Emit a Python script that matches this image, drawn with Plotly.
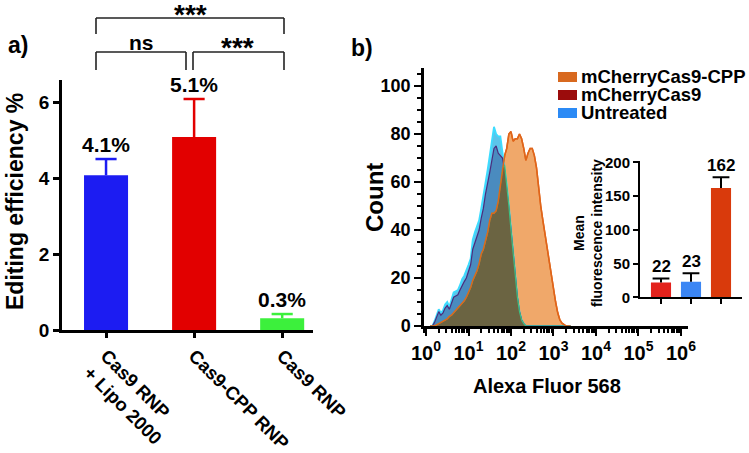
import plotly.graph_objects as go
import numpy as np

W, H = 749, 453
def px(x): return x / W
def py(y): return 1 - y / H

FONT = "Liberation Sans, Arial, sans-serif"

# ---------------- data: panel a ----------------
edit_categories = ["Cas9 RNP<br>+ Lipo 2000", "Cas9-CPP RNP", "Cas9 RNP"]
edit_values = [4.07, 5.08, 0.31]
edit_err = [0.43, 1.0, 0.11]
edit_labels = ["4.1%", "5.1%", "0.3%"]
edit_colors = ["#1c1cf2", "#e20000", "#3cf03c"]

# ---------------- data: panel b histogram ----------------
fluor_log10 = [0.10, 0.15, 0.20, 0.25, 0.30, 0.35, 0.40, 0.45, 0.50, 0.55,
               0.60, 0.65, 0.70, 0.75, 0.80, 0.85, 0.90, 0.95, 1.00, 1.05,
               1.10, 1.15, 1.20, 1.25, 1.30, 1.35, 1.40, 1.45, 1.50, 1.55,
               1.60, 1.65, 1.70, 1.75, 1.80, 1.85, 1.90, 1.95, 2.00, 2.05,
               2.10, 2.15, 2.20, 2.25, 2.30, 2.35, 2.40, 2.45, 2.50, 2.55,
               2.60, 2.65, 2.70, 2.75, 2.80, 2.85, 2.90, 2.95, 3.00, 3.05,
               3.10, 3.15, 3.20, 3.25, 3.30, 3.35, 3.40]
count_untreated = [0, 0, 2, 5, 7, 5.5, 6.5, 9, 10, 8,
                   11, 14, 14.5, 15, 17, 19.5, 21, 23, 25.5, 28,
                   36, 39, 42, 44, 49, 54, 60, 65, 71, 77,
                   83, 80, 79, 79, 73, 67, 59, 50, 40, 30,
                   19, 12, 6, 2.5, 1, 0, 0, 0, 0, 0,
                   0, 0, 0, 0, 0, 0, 0, 0, 0, 0,
                   0, 0, 0, 0, 0, 0, 0]
count_mcherry = [0, 0, 1.5, 4, 6, 4.5, 5.5, 7.5, 8.5, 7,
                 9.5, 12, 12.5, 13, 15, 17, 18.5, 20, 23, 25.5,
                 32, 35, 38, 40, 45, 49, 55, 59, 64, 69,
                 74, 75, 72, 71, 70, 65, 58, 49, 40, 30,
                 19, 12, 6, 2.5, 1, 0, 0, 0, 0, 0,
                 0, 0, 0, 0, 0, 0, 0, 0, 0, 0,
                 0, 0, 0, 0, 0, 0, 0]
count_cpp = [0, 0, 0, 0.5, 1, 1.5, 2, 2.5, 3, 4,
             4.5, 5.5, 6.5, 7.5, 8.5, 9.5, 10.5, 12, 14, 16,
             19, 21, 23, 26, 30, 32, 35, 39, 44, 47,
             47, 48, 52, 58, 66, 71, 74, 80, 81, 77,
             78, 78, 80, 78, 74, 69, 72, 74, 74, 71,
             66, 57, 50, 44, 38.5, 32, 26, 20, 14.5, 10,
             5.5, 2.5, 1.2, 0.5, 0, 0, 0]
hist_tick_exp = [0, 1, 2, 3, 4, 5, 6]
hist_tick_text = ["10<sup>%d</sup>" % k for k in hist_tick_exp]

legend_names = ["mCherryCas9-CPP", "mCherryCas9", "Untreated"]
legend_colors = ["#d8691f", "#9b0c0c", "#2b8af5"]

# ---------------- data: inset ----------------
mfi_groups = ["mCherryCas9", "Untreated", "mCherryCas9-CPP"]
mfi_values = [22, 23, 162]
mfi_err = [6, 12.5, 16]
mfi_labels = ["22", "23", "162"]
mfi_colors = ["#e3221c", "#3b86f4", "#d93a0c"]

fig = go.Figure()

def err_trace(i, val, err, half, color, width, xa, ya):
    top = val + err
    return go.Scatter(x=[i, i, None, i - half, i + half], y=[val, top, None, top, top],
                      mode="lines", line=dict(color=color, width=width),
                      xaxis=xa, yaxis=ya, showlegend=False, hoverinfo="skip")

# ---- panel a bars ----
for i in range(3):
    fig.add_trace(go.Bar(
        x=[i], y=[edit_values[i]], width=0.5, marker_color=edit_colors[i],
        marker_line_width=0, xaxis="x", yaxis="y", showlegend=False, hoverinfo="skip"))
    fig.add_trace(err_trace(i, edit_values[i], edit_err[i], 0.12, edit_colors[i], 2.5, "x", "y"))

# ---- panel b histograms ----
xs = [10 ** v for v in fluor_log10]
overlap = np.minimum(np.array(count_untreated), np.array(count_cpp))
fig.add_trace(go.Scatter(x=xs, y=count_cpp, fill="tozeroy", mode="lines",
                         line=dict(color="#e0651a", width=1.5), fillcolor="#f0a86a",
                         xaxis="x2", yaxis="y2", showlegend=False, hoverinfo="skip"))
fig.add_trace(go.Scatter(x=xs, y=count_untreated, fill="tozeroy", mode="lines",
                         line=dict(color="#3ddcff", width=1.8), fillcolor="#5cc4ea",
                         xaxis="x2", yaxis="y2", showlegend=False, hoverinfo="skip"))
fig.add_trace(go.Scatter(x=xs, y=count_mcherry, fill="tozeroy", mode="lines",
                         line=dict(color="#4b2c7e", width=1.2), fillcolor="#4a8bbf",
                         xaxis="x2", yaxis="y2", showlegend=False, hoverinfo="skip"))
fig.add_trace(go.Scatter(x=xs, y=overlap, fill="tozeroy", mode="lines",
                         line=dict(color="#3fbf80", width=1.2), fillcolor="#6b6442",
                         xaxis="x2", yaxis="y2", showlegend=False, hoverinfo="skip"))
fig.add_trace(go.Scatter(x=xs, y=count_cpp, mode="lines",
                         line=dict(color="#e0651a", width=1.5),
                         xaxis="x2", yaxis="y2", showlegend=False, hoverinfo="skip"))

# ---- inset bars ----
for i in range(3):
    fig.add_trace(go.Bar(
        x=[i], y=[mfi_values[i]], width=0.67, marker_color=mfi_colors[i],
        marker_line_width=0, xaxis="x3", yaxis="y3", showlegend=False, hoverinfo="skip"))
    fig.add_trace(err_trace(i, mfi_values[i], mfi_err[i], 0.28, "black", 2, "x3", "y3"))

axis_common = dict(showline=True, linecolor="black", showgrid=False, zeroline=False,
                   ticks="outside", tickcolor="black", automargin=False)

fig.update_layout(
    width=W, height=H, margin=dict(l=0, r=0, t=0, b=0, pad=0), autosize=False,
    paper_bgcolor="white", plot_bgcolor="rgba(0,0,0,0)", barmode="overlay",
    font=dict(family=FONT, color="black"),
    xaxis=dict(**axis_common, domain=[px(62), px(313)], range=[-0.5, 2.35],
               tickvals=[0, 1, 2], ticktext=edit_categories, tickangle=45,
               linewidth=2.5, ticklen=5, tickwidth=2.5, anchor="y",
               tickfont=dict(size=18.5, weight="bold", family=FONT)),
    yaxis=dict(**axis_common, domain=[py(330), py(80)], range=[0, 6.58],
               tickvals=[0, 2, 4, 6], linewidth=2.5, ticklen=6, tickwidth=2.5,
               anchor="x", tickfont=dict(size=19, weight="bold", family=FONT)),
    xaxis2=dict(**axis_common, type="log", domain=[px(424), px(688)],
                range=[-0.047, 6.165], tickvals=[10 ** k for k in hist_tick_exp],
                ticktext=hist_tick_text, linewidth=2.5, ticklen=7, tickwidth=2,
                minor=dict(ticks="outside", ticklen=4, tickwidth=1.5, tickcolor="black", dtick="D1"),
                anchor="y2", tickfont=dict(size=20, weight="bold", family=FONT)),
    yaxis2=dict(**axis_common, domain=[py(326), py(68)], range=[0, 107.5],
                tickvals=[0, 20, 40, 60, 80, 100], linewidth=2.5, ticklen=7, tickwidth=2,
                minor=dict(ticks="outside", ticklen=4, tickwidth=1.5, tickcolor="black", dtick=5),
                anchor="x2", tickfont=dict(size=18, weight="bold", family=FONT)),
    xaxis3=dict(**axis_common, domain=[px(640), px(742)], range=[-0.7, 2.7],
                tickvals=[0, 1, 2], showticklabels=False, linewidth=2, ticklen=5,
                tickwidth=2, anchor="y3"),
    yaxis3=dict(**axis_common, domain=[py(297.3), py(161)], range=[0, 202.2],
                tickvals=[0, 50, 100, 150, 200], linewidth=2, ticklen=5, tickwidth=2,
                anchor="x3", tickfont=dict(size=15, weight="bold", family=FONT)),
)

ann = []
def A(text, x, y, size, angle=0, xanchor="center", yanchor="middle", **kw):
    ann.append(dict(text=text, x=px(x), y=py(y), xref="paper", yref="paper",
                    showarrow=False, textangle=angle, xanchor=xanchor, yanchor=yanchor,
                    font=dict(size=size, family=FONT, color="black", weight="bold"), **kw))

# bar value labels (data coords)
for i in range(3):
    ann.append(dict(text=edit_labels[i], x=i, y=edit_values[i] + edit_err[i], xref="x", yref="y",
                    showarrow=False, yanchor="bottom", yshift=1,
                    font=dict(size=21, family=FONT, color="black", weight="bold")))
    ann.append(dict(text=mfi_labels[i], x=i, y=mfi_values[i] + mfi_err[i], xref="x3", yref="y3",
                    showarrow=False, yanchor="bottom", yshift=0,
                    font=dict(size=17, family=FONT, color="black", weight="bold")))

A("a)", 18, 45, 23)
A("b)", 362, 48, 23)
A("Editing efficiency %", 15, 202, 23, angle=-90)
A("Count", 374, 198, 24, angle=-90)
A("Alexa Fluor 568", 547, 386, 20)
A("Mean<br>fluorescence intensity", 588, 233, 14, angle=-90)
A("***", 190, 14, 28)
A("ns", 141, 42, 21)
A("***", 238, 48, 28)

legend_y = [77, 95, 113]
shapes = []
for name, col, yy in zip(legend_names, legend_colors, legend_y):
    A(name, 579, yy, 18.5, xanchor="left")
    shapes.append(dict(type="rect", xref="paper", yref="paper",
                       x0=px(558), x1=px(577), y0=py(yy - 5), y1=py(yy + 5),
                       fillcolor=col, line=dict(width=0)))

def L(x0, y0, x1, y1):
    shapes.append(dict(type="line", xref="paper", yref="paper", x0=px(x0), y0=py(y0),
                       x1=px(x1), y1=py(y1), line=dict(color="#222", width=1.6)))

# top bracket
L(96, 18, 284, 18); L(96, 18, 96, 34); L(284, 18, 284, 34)
# ns bracket
L(96, 52, 186, 52); L(96, 52, 96, 70); L(186, 52, 186, 70)
# right bracket
L(193, 52, 284, 52); L(193, 52, 193, 70); L(284, 52, 284, 70)

fig.update_layout(annotations=ann, shapes=shapes)
fig.write_html("out.html", config={"displayModeBar": False},
               post_script="document.body.style.margin='0';document.body.style.padding='0';document.body.style.overflow='hidden';")
